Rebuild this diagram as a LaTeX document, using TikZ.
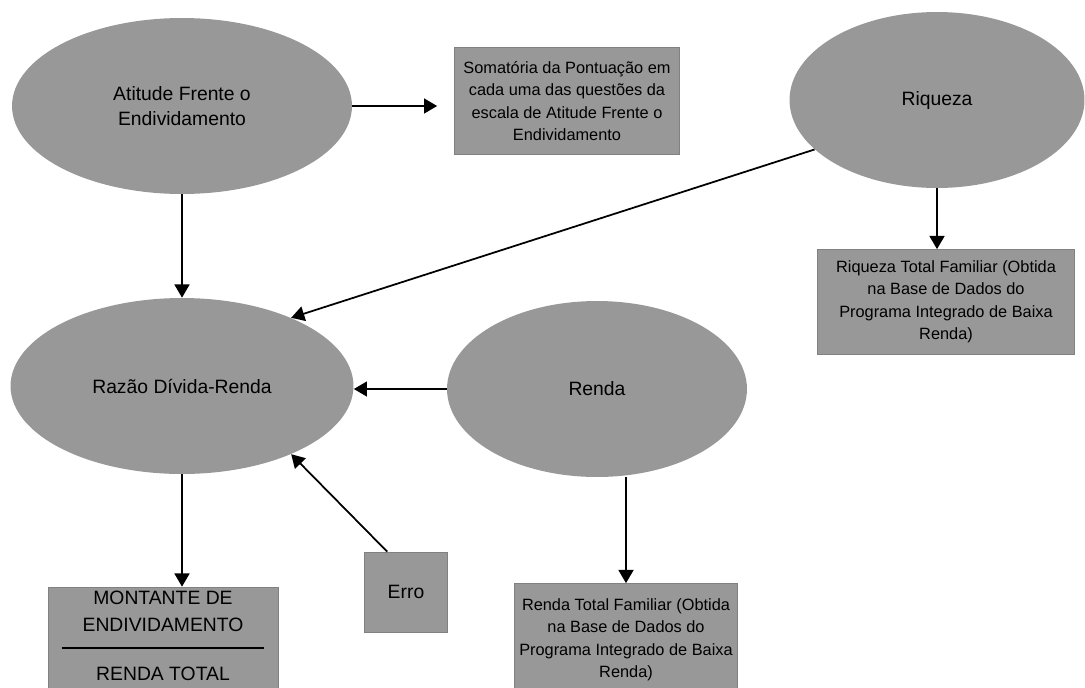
\documentclass[tikz,border=0pt]{standalone}
\usepackage{fontspec}
\setmainfont{Liberation Sans}
\usetikzlibrary{arrows.meta, shapes.geometric}
\definecolor{fundo}{RGB}{152,152,152}

\begin{document}
\begin{tikzpicture}[
  x=0.02cm, y=-0.02cm,
  construto/.style={ellipse, fill=fundo, inner sep=0pt, minimum height=3.52cm, align=center, font=\fontsize{11}{14}\selectfont},
  medida/.style={rectangle, fill=fundo, draw=fundo!85!black, inner sep=2pt, align=center, font=\fontsize{9.3}{12.8}\selectfont},
  >={Triangle[length=7.5pt, width=8.5pt]},
  seta/.style={->, line width=1pt}
]
  \clip (0,0) rectangle (1085,687);

  \node[construto, minimum width=6.8cm] (ati) at (182,106) {Atitude Frente o\\ Endividamento};
  \node[construto, minimum width=5.9cm] (riq) at (937,100) {Riqueza};
  \node[construto, minimum width=6.86cm] (raz) at (182,386) {Raz\~ao D\'ivida-Renda};
  \node[construto, minimum width=6cm] (ren) at (597,389) {Renda};

  \node[medida, minimum width=4.5cm, minimum height=2.14cm] (som) at (567,101) {Somat\'oria da Pontua\c{c}\~ao em\\ cada uma das quest\~oes da\\ escala de Atitude Frente o\\ Endividamento};
  \node[medida, minimum width=5.14cm, minimum height=2.1cm] (rtf) at (946,302) {Riqueza Total Familiar (Obtida\\ na Base de Dados do\\ Programa Integrado de Baixa\\ Renda)};
  \node[medida, minimum width=4.46cm, minimum height=2.26cm] (rnf) at (626,640) {Renda Total Familiar (Obtida\\ na Base de Dados do\\ Programa Integrado de Baixa\\ Renda)};
  \node[medida, minimum width=1.66cm, minimum height=1.6cm, font=\fontsize{11}{14}\selectfont] (erro) at (406,592) {Erro};
  \node[medida, minimum width=4.6cm, minimum height=2.2cm, font=\fontsize{11}{15}\selectfont] (mont) at (163,642) {MONTANTE DE\\ ENDIVIDAMENTO\\[-5pt] \rule{4.06cm}{0.8pt}\\[3pt] RENDA TOTAL\\[-8pt] \mbox{}};

  \draw[seta, shorten >=0.34cm] (ati.east) -- (ati.east -| som.west);
  \draw[seta] (ati.south) -- (raz.north);
  \draw[seta] (riq.202) -- (raz.32);
  \draw[seta] (riq.south) -- (riq.south |- rtf.north);
  \draw[seta] (ren.west) -- (ren.west -| raz.east);
  \draw[seta] (erro.115) -- (raz.-32);
  \draw[seta] (raz.south) -- (raz.south |- mont.north);
  \draw[seta] (rnf.north |- ren.south) -- (rnf.north);
\end{tikzpicture}
\end{document}
